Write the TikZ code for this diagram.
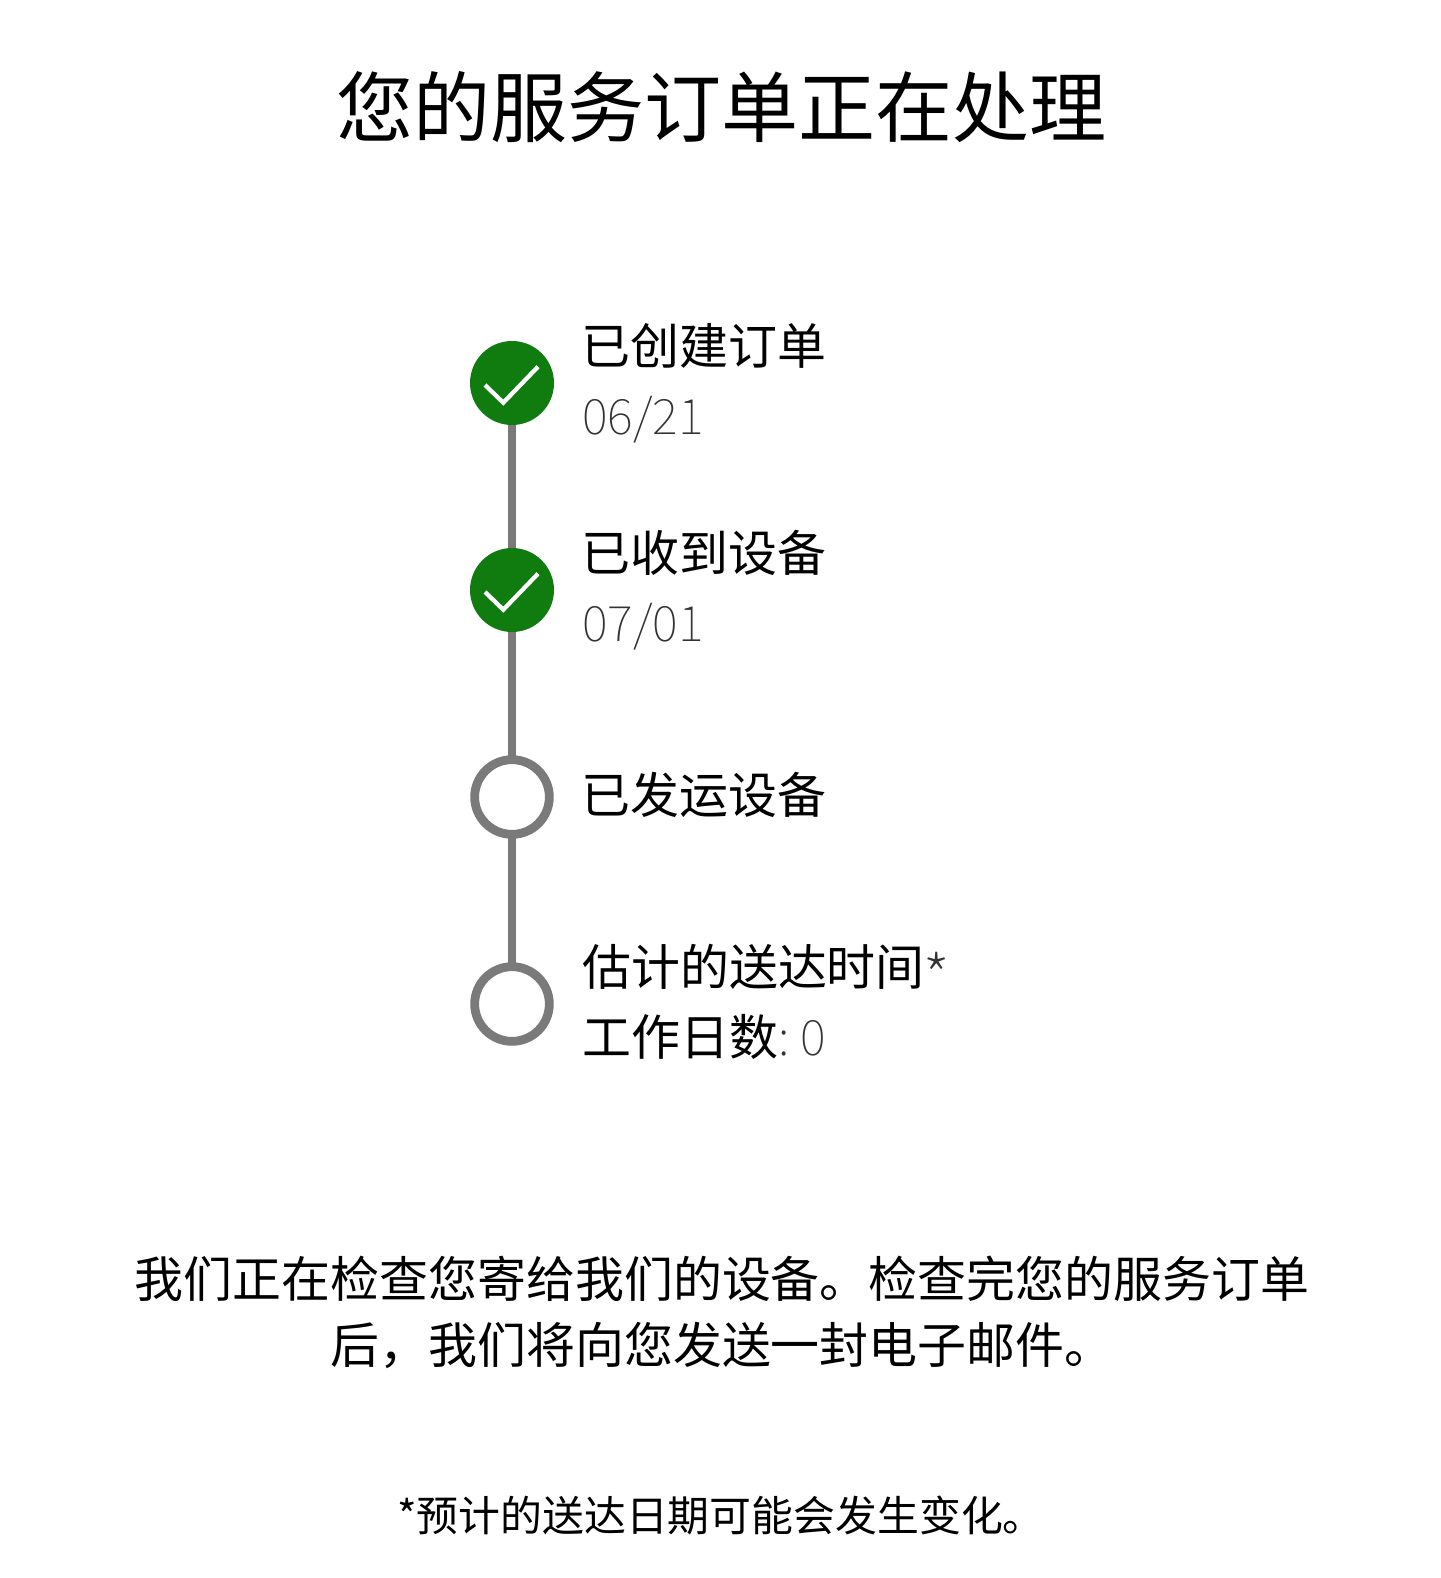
\documentclass[tikz,border=0pt]{standalone}
\usepackage{fontspec}
\setmainfont{Noto Sans CJK SC}[BoldFont={Noto Sans CJK SC}]
\newfontfamily\cjklight{Noto Sans CJK SC Thin}
\definecolor{okgreen}{HTML}{107C10}
\definecolor{railgray}{HTML}{7A7A7A}
\definecolor{softgray}{HTML}{333333}
\tikzset{
  px/.style={x=0.75pt,y=-0.75pt},
  done/.style={circle,fill=okgreen,minimum size=63pt,inner sep=0pt},
  todo/.style={circle,draw=railgray,line width=6.6pt,fill=white,minimum size=56pt,inner sep=0pt},
  rail/.style={draw=railgray,line width=5.6pt},
  tick/.style={draw=white,line width=3.2pt},
  label/.style={anchor=west,inner sep=0pt,font=\fontsize{36.7pt}{36.7pt}\selectfont,text=black},
  sub/.style={anchor=west,inner sep=0pt,font=\cjklight\fontsize{36.7pt}{36.7pt}\selectfont,text=softgray},
}
\begin{document}
\begin{tikzpicture}[px]
\useasboundingbox (0,0) rectangle (1440,1578);
\node[inner sep=0pt,font=\fontsize{57.8pt}{57.8pt}\selectfont] (title) at (721.5,107) {您的服务订单正在处理};
\coordinate (c1) at (512,383);
\coordinate (c2) at (512,590);
\coordinate (c3) at (512,797);
\coordinate (c4) at (512,1004);
\draw[rail] (c1) -- (c2);
\draw[rail] (c2) -- (c3);
\draw[rail] (c3) -- (c4);
\node[done] (s1) at (c1) {};
\node[done] (s2) at (c2) {};
\node[todo] (s3) at (c3) {};
\node[todo] (s4) at (c4) {};
\draw[tick] (485,385) -- (503.3,402.7) -- (538,366.7);
\draw[tick] (485,592) -- (503.3,609.7) -- (538,573.7);
\node[label] (l1) at (581,346) {已创建订单};
\node[sub] (d1) at (582,420) {06/21};
\node[label] (l2) at (581,553) {已收到设备};
\node[sub] (d2) at (582,627) {07/01};
\node[label] (l3) at (581,795) {已发运设备};
\node[label] (l4) at (582,967) {估计的送达时间{\cjklight\color{softgray}\kern-2pt\smash{\raisebox{-14pt}{\fontsize{50pt}{50pt}\selectfont *}}}};
\node[label] (l5) at (582,1037) {工作日数{\cjklight\color{softgray}:\ 0}};
\node[inner sep=0pt,font=\fontsize{36.7pt}{36.7pt}\selectfont] (b1) at (722,1279) {我们正在检查您寄给我们的设备。检查完您的服务订单};
\node[inner sep=0pt,font=\fontsize{36.7pt}{36.7pt}\selectfont] (b2) at (722,1345) {后，我们将向您发送一封电子邮件。};
\node[inner sep=0pt,font=\fontsize{31.4pt}{31.4pt}\selectfont] (foot) at (721,1515) {*预计的送达日期可能会发生变化。};
\end{tikzpicture}
\end{document}
